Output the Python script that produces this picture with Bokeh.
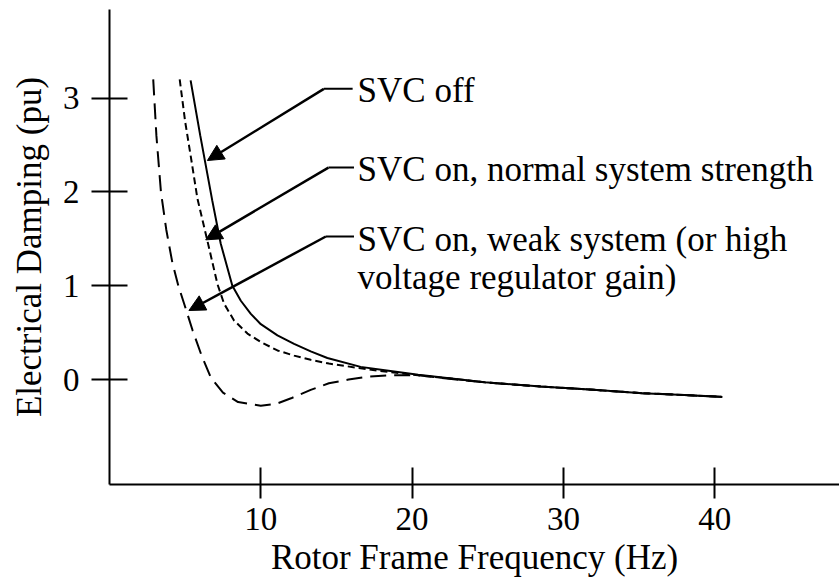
from bokeh.plotting import figure
from bokeh.models import Range1d, FixedTicker, Arrow, NormalHead, Title, ColumnDataSource
from bokeh.core.properties import value
from bokeh.embed import file_html
from bokeh.resources import INLINE

# ---- data ----
x_title = "Rotor Frame Frequency (Hz)"
y_title = "Electrical Damping (pu)"
x_ticks = [10, 20, 30, 40]
y_ticks = [0, 1, 2, 3]

# SVC off (solid)
freq_off = [5.36, 6.0, 6.79, 7.35, 8.12, 8.68, 9.34, 10.0, 11.1, 12.2, 13.3, 14.4,
            16.6, 18.2, 20.4, 22.6, 24.8, 28.5, 32.0, 35.2, 38.0, 40.5]
damp_off = [3.19, 2.6, 1.91, 1.45, 1.0, 0.84, 0.70, 0.59, 0.47, 0.38, 0.30, 0.23,
            0.135, 0.10, 0.05, 0.01, -0.03, -0.075, -0.11, -0.145, -0.165, -0.185]

# SVC on, normal system strength (short dash)
freq_normal = [4.64, 5.0, 5.4, 5.81, 6.47, 7.13, 7.57, 8.23, 9.12, 10.0, 11.1, 12.2,
               13.3, 14.5, 16.6, 18.2, 20.4, 22.6, 24.8, 28.5, 32.0, 35.2, 38.0, 40.5]
damp_normal = [3.2, 2.75, 2.35, 1.93, 1.48, 1.02, 0.81, 0.63, 0.49, 0.40, 0.31, 0.255,
               0.21, 0.17, 0.12, 0.085, 0.045, 0.01, -0.03, -0.075, -0.11, -0.145, -0.165, -0.185]

# SVC on, weak system (long dash)
freq_weak = [2.89, 3.1, 3.4, 3.75, 4.15, 4.55, 4.95, 5.5, 6.1, 6.7, 7.5, 8.5, 10.0, 11.0,
             12.0, 13.3, 14.5, 15.8, 17.0, 18.5, 20.4, 22.6, 24.8, 28.5, 32.0, 35.2, 38.0, 40.5]
damp_weak = [3.2, 2.6, 2.0, 1.6, 1.25, 1.0, 0.8, 0.52, 0.25, 0.02, -0.14, -0.24, -0.28, -0.26,
             -0.20, -0.11, -0.04, 0.0, 0.03, 0.045, 0.045, 0.005, -0.03, -0.075, -0.11, -0.145, -0.165, -0.185]

# annotation texts and their anchors (data units)
note_text = ["SVC off", "SVC on, normal system strength",
             "SVC on, weak system (or high", "voltage regulator gain)"]
note_x = [16.4, 16.4, 16.4, 16.4]
note_y = [3.08, 2.24, 1.497, 1.089]

# leader lines: elbow, end of horizontal part, arrow tip
elbow_x = [14.17, 14.47, 14.30]
elbow_y = [3.099, 2.26, 1.525]
leader_end_x = [16.07, 16.16, 16.16]
tip_x = [6.47, 6.36, 5.25]
tip_y = [2.335, 1.489, 0.736]

FONT = "Liberation Serif"

p = figure(width=839, height=581,
           x_range=Range1d(0, 48.25), y_range=Range1d(-1.119, 3.945),
           output_backend="svg", toolbar_location=None,
           min_border_left=109, min_border_right=0, min_border_top=9, min_border_bottom=97)
p.grid.visible = False
p.outline_line_color = None
p.background_fill_color = "white"
p.border_fill_color = "white"

for ax in (p.xaxis[0], p.yaxis[0]):
    ax.axis_line_width = 2
    ax.axis_line_color = "black"
    ax.major_tick_line_width = 2
    ax.major_tick_line_color = "black"
    ax.minor_tick_line_color = None
    ax.major_label_text_font = FONT
    ax.major_label_text_font_size = "33px"
    ax.major_label_text_color = "black"

p.xaxis.ticker = FixedTicker(ticks=x_ticks)
p.xaxis.major_tick_in = 17
p.xaxis.major_tick_out = 14
p.xaxis.major_label_standoff = 9

p.yaxis.ticker = FixedTicker(ticks=y_ticks)
p.yaxis.major_tick_in = 18
p.yaxis.major_tick_out = 18
p.yaxis.major_label_standoff = 12
p.yaxis.axis_label = y_title
p.yaxis.axis_label_text_font = FONT
p.yaxis.axis_label_text_font_size = "35px"
p.yaxis.axis_label_text_font_style = "normal"
p.yaxis.axis_label_text_color = "black"
p.yaxis.axis_label_standoff = 11

# x axis title, placed below the axis and shifted left like the reference
p.add_layout(Title(text=x_title, text_font=FONT, text_font_size="35px", text_font_style="normal",
                   text_color="black", align="center", offset=-40, standoff=7), "below")

# curves
p.line(freq_off, damp_off, line_color="black", line_width=2)
p.line(freq_normal, damp_normal, line_color="black", line_width=2, line_dash="7 4")
p.line(freq_weak, damp_weak, line_color="black", line_width=2, line_dash="16 8")

# leader lines
p.segment(x0=elbow_x, y0=elbow_y, x1=leader_end_x, y1=elbow_y, line_color="black", line_width=2)
arrow_src = ColumnDataSource(dict(xs=elbow_x, ys=elbow_y, xe=tip_x, ye=tip_y))
p.add_layout(Arrow(end=NormalHead(size=16, fill_color="black", line_color="black", line_width=1),
                   x_start="xs", y_start="ys", x_end="xe", y_end="ye", source=arrow_src,
                   line_color="black", line_width=2.5))

# annotation texts
p.text(x=note_x, y=note_y, text=note_text, text_font=value(FONT), text_font_size="35px",
       text_color="black", text_align="left", text_baseline="alphabetic")

open("out.html", "w").write(file_html(p, INLINE))
